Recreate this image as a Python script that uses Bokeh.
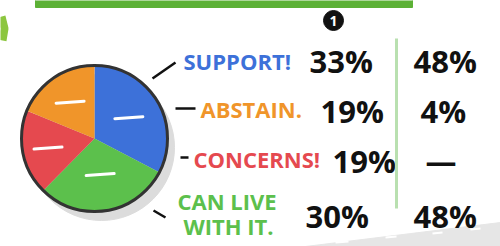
import numpy as np
from bokeh.plotting import figure
from bokeh.models import Range1d
from bokeh.core.properties import value
from bokeh.embed import file_html
from bokeh.resources import INLINE

# ---- data ----
categories = ["SUPPORT!", "ABSTAIN.", "CONCERNS!", "CAN LIVE|WITH IT."]
round1_pct = [33, 19, 19, 30]
round2_labels = ["48%", "4%", "—", "48%"]
colors = ["#3d71d9", "#f0952a", "#e5494f", "#5cc04c"]
pie_order = [0, 3, 2, 1]  # clockwise from 12 o'clock
header = "1"

H = 246  # reference pixel height; y data = H - y_pixel

p = figure(width=500, height=246, output_backend="svg", toolbar_location=None,
           x_range=Range1d(0, 500), y_range=Range1d(0, H), min_border=0)
p.axis.visible = False
p.grid.visible = False
p.outline_line_color = None
p.background_fill_color = "white"

# decorations
p.quad(left=[35], right=[412], bottom=[H - 7], top=[H + 2], color="#5cb136")
p.line([1, 4, 2], [H - 16, H - 28, H - 40], line_color="#8cc63f", line_width=8)
p.patch([305, 500, 500, 315], [0, 24, 0, 0], color="#e6e6e6")
p.segment(x0=[335, 385, 432, 470], y0=[4, 9, 13, 17], x1=[348, 396, 442, 480], y1=[5, 10, 14, 18],
          line_color="white", line_width=2)

# pie
cx, cy, r = 94, H - 138, 73
p.circle(x=[cx + 7], y=[cy - 9], radius=r, color="#dcdcdc")
total = sum(round1_pct)
cum = 0
starts, ends, cols = [], [], []
for i in pie_order:
    a0 = np.pi / 2 - 2 * np.pi * cum / total
    cum += round1_pct[i]
    a1 = np.pi / 2 - 2 * np.pi * cum / total
    starts.append(a1); ends.append(a0); cols.append(colors[i])
p.wedge(x=cx, y=cy, radius=r, start_angle=starts, end_angle=ends,
        color=cols, line_color=None)
p.circle(x=[cx], y=[cy], radius=r, fill_color=None, line_color="#333333", line_width=3)

# white dashes on slices
mid = [(s + e) / 2 for s, e in zip(starts, ends)]
rr = [0.55, 0.5, 0.65, 0.6]
mx = [cx + f * r * np.cos(m) for f, m in zip(rr, mid)]
my = [cy + f * r * np.sin(m) for f, m in zip(rr, mid)]
p.segment(x0=[x - 14 for x in mx], y0=[y - 1 for y in my], x1=[x + 14 for x in mx], y1=[y + 1 for y in my],
          line_color="white", line_width=3, line_cap="round")

# leader lines
p.segment(x0=[152, 175, 180, 153], y0=[H - 78, H - 108, H - 157, H - 210],
          x1=[175, 195, 188, 165], y1=[H - 62, H - 108, H - 157, H - 217],
          line_color="#111", line_width=2.5)

# labels
lab_x = [[183], [200], [193], [177, 183]]
lab_y = [[H - 60], [H - 108], [H - 158], [H - 200, H - 225]]
for i, c in enumerate(categories):
    parts = c.split("|")
    p.text(x=lab_x[i], y=lab_y[i], text=parts, text_color=colors[i],
           text_font=value("Open Sans"), text_font_style="bold",
           text_font_size="22px", text_baseline="middle", text_align="left")

# column 1
num_x = [309, 320, 332, 305]
num_y = [H - 60, H - 110, H - 160, H - 215]
p.text(x=num_x, y=num_y, text=[f"{v}%" for v in round1_pct], text_color="#111",
       text_font=value("Open Sans"), text_font_style="bold", text_font_size="31px",
       text_baseline="middle")

# header badge
p.circle(x=[333], y=[H - 20], radius=10, color="#111")
p.text(x=[333], y=[H - 20], text=[header], text_color="white", text_font=value("Open Sans"),
       text_font_style="bold", text_font_size="14px", text_align="center", text_baseline="middle")

# separator
p.line([396, 396], [H - 38, H - 208], line_color="#b9e0b0", line_width=3)

# column 2
c2_x = [413, 420, 425, 413]
p.text(x=c2_x, y=num_y, text=round2_labels, text_color="#111",
       text_font=value("Open Sans"), text_font_style="bold", text_font_size="31px",
       text_baseline="middle")

open("out.html", "w").write(file_html(p, INLINE))
